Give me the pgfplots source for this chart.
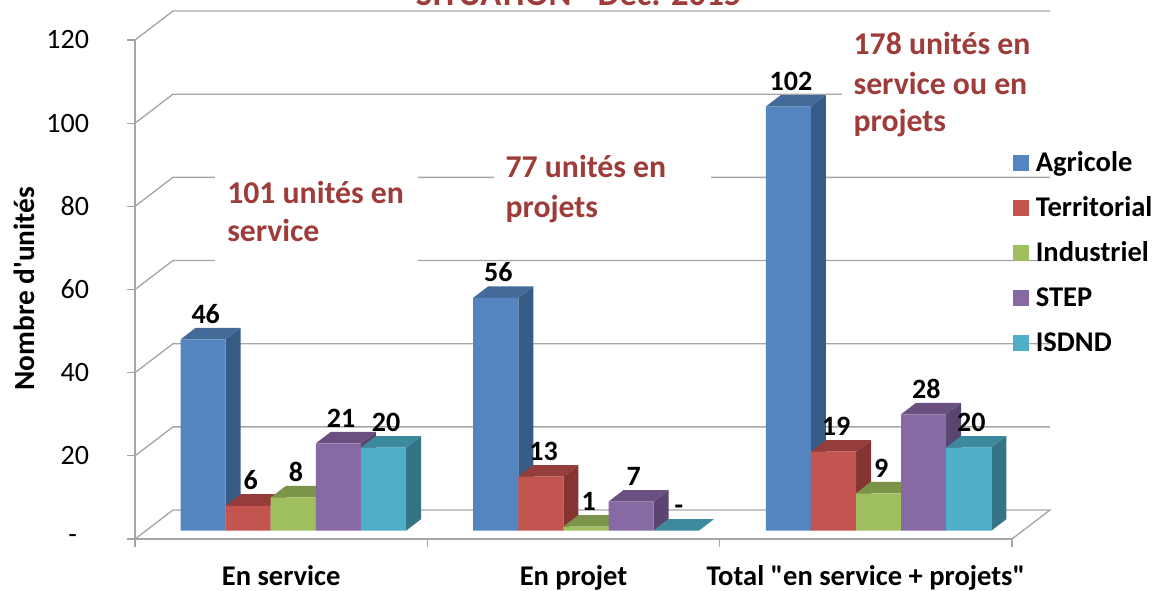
\documentclass[border=0pt]{standalone}
\usepackage{pgfplots}
\pgfplotsset{compat=1.18}
\usepackage{fontspec}
\setmainfont{Carlito}
\newfontfamily\carl{Carlito}
\definecolor{wallc}{HTML}{A6A6A6}
\definecolor{redtxt}{HTML}{9E3C3A}
\definecolor{bluef}{HTML}{5585C0}\definecolor{blues}{HTML}{385B85}\definecolor{bluet}{HTML}{446A9A}
\definecolor{redf}{HTML}{C3544F}\definecolor{reds}{HTML}{843532}\definecolor{redt}{HTML}{953D3B}
\definecolor{greenf}{HTML}{A0BF5E}\definecolor{greens}{HTML}{6F8A3F}\definecolor{greent}{HTML}{7C944A}
\definecolor{purplef}{HTML}{8769A4}\definecolor{purples}{HTML}{5A4570}\definecolor{purplet}{HTML}{6A5080}
\definecolor{tealf}{HTML}{4FAFC9}\definecolor{teals}{HTML}{347485}\definecolor{tealt}{HTML}{3D8A9F}
% one face of a bar: side and top, from the left edge and the value
\newcommand{\depth}[4]{%
  \pgfmathsetmacro{\xr}{#1+45.1}\pgfmathsetmacro{\xb}{#1+45.1+15}\pgfmathsetmacro{\xc}{#1+15}\pgfmathsetmacro{\yt}{#2+2.77}%
  \edef\temp{\noexpand\addplot[fill=#3,draw=none,forget plot] coordinates {(\xr,0)(\xb,2.77)(\xb,\yt)(\xr,#2)};
  \noexpand\addplot[fill=#4,draw=none,forget plot] coordinates {(#1,#2)(\xr,#2)(\xb,\yt)(\xc,\yt)};}\temp}
\begin{document}
\begin{tikzpicture}
\path[use as bounding box,clip] (0,0) rectangle (864.75pt,442.5pt);
% frame axis, walls and ticks
\begin{axis}[
  at={(101.25pt,38.25pt)},anchor=origin,
  scale only axis,width=657.75pt,height=374.25pt,
  xmin=0,xmax=3,ymin=0,ymax=120,clip=false,
  axis lines*=left,axis line style={wallc,line width=1pt},
  tick style={wallc,line width=0.8pt},major tick length=6pt,tick align=outside,
  tick pos=left,
  ytick={0,20,40,60,80,100,120},
  yticklabels={-\rule{9pt}{0pt},20,40,60,80,100,120},
  yticklabel style={font=\fontsize{21}{25}\selectfont,anchor=east,xshift=-25pt},
  xtick={0,1,2,3},x tick label as interval,
  xticklabels={En service,En projet,{\carl Total "en service + projets"}},
  xticklabel style={font=\bfseries\fontsize{21.4}{25}\selectfont,anchor=base,yshift=-28.5pt},
]
\addplot[wallc,line width=1pt] coordinates {(0,0)(0.13,6.97)(3.13,6.97)(3,0)};
\addplot[wallc,line width=1pt] coordinates {(0,20)(0.13,26.97)(3.13,26.97)};
\addplot[wallc,line width=1pt] coordinates {(0,40)(0.13,46.97)(3.13,46.97)};
\addplot[wallc,line width=1pt] coordinates {(0,60)(0.13,66.97)(3.13,66.97)};
\addplot[wallc,line width=1pt] coordinates {(0,80)(0.13,86.97)(3.13,86.97)};
\addplot[wallc,line width=1pt] coordinates {(0,100)(0.13,106.97)(3.13,106.97)};
\addplot[wallc,line width=1pt] coordinates {(0,120)(0.13,126.97)(3.13,126.97)};
\end{axis}
% text boxes that interrupt the wall lines
\fill[white] (161.25pt,240pt) rectangle (313.5pt,319pt);
\fill[white] (370.5pt,281pt) rectangle (533.25pt,330pt);
\fill[white] (631.5pt,330pt) rectangle (800pt,430pt);
\node[anchor=base west,inner sep=0pt,align=left,text=redtxt,font=\bfseries\fontsize{23.8}{30}\selectfont] at (170.25pt,290pt) {101 unités en};
\node[anchor=base west,inner sep=0pt,text=redtxt,font=\bfseries\fontsize{23.8}{30}\selectfont] at (170.25pt,261pt) {service};
\node[anchor=base west,inner sep=0pt,text=redtxt,font=\bfseries\fontsize{23.8}{30}\selectfont] at (379pt,309pt) {77 unités en};
\node[anchor=base west,inner sep=0pt,text=redtxt,font=\bfseries\fontsize{23.8}{30}\selectfont] at (379pt,279pt) {projets};
\node[anchor=base west,inner sep=0pt,text=redtxt,font=\bfseries\fontsize{23.8}{30}\selectfont] at (640pt,401.5pt) {178 unités en};
\node[anchor=base west,inner sep=0pt,text=redtxt,font=\bfseries\fontsize{23.8}{30}\selectfont] at (640pt,371.5pt) {service ou en};
\node[anchor=base west,inner sep=0pt,text=redtxt,font=\bfseries\fontsize{23.8}{30}\selectfont] at (640pt,343.5pt) {projets};
\node[anchor=base,inner sep=0pt,text=redtxt,font=\bfseries\fontsize{26}{30}\selectfont] at (434pt,438pt) {SITUATION - Déc. 2015};
\node[rotate=90,anchor=center,font=\carl\bfseries\fontsize{22}{26}\selectfont] at (18pt,226pt) {Nombre d'unités};
% bars
\begin{axis}[
  at={(0pt,0pt)},anchor=south west,
  scale only axis,width=864.75pt,height=442.5pt,
  xmin=0,xmax=1153,ymin=-14.26,ymax=127.63,
  clip=false,hide axis,
  swatch/.style={legend image code/.code={\path[draw=none,#1] (0pt,0.4pt) rectangle (11.7pt,12.1pt);}},
  legend style={at={(axis cs:1013,91.65)},anchor=north west,draw=none,fill=none,inner sep=0pt,
    nodes={inner sep=0pt,anchor=base west,text height=16pt,text depth=5pt,font=\bfseries\fontsize{21.4}{25}\selectfont},
    /tikz/every odd column/.append style={column sep=5.25pt},row sep=12.75pt},
  legend cell align=left,
  onebar/.style={ybar,bar width=33.83pt,bar shift=0pt,draw=none,forget plot,
    nodes near coords,point meta=explicit symbolic,
    every node near coord/.append style={anchor=base,inner sep=0pt,xshift=2pt,yshift=12.2pt,
      text=black,font=\bfseries\fontsize{21}{25}\selectfont}},
]
\addlegendimage{swatch={fill=bluef}}\addlegendentry{Agricole}
\addlegendimage{swatch={fill=redf}}\addlegendentry{Territorial}
\addlegendimage{swatch={fill=greenf}}\addlegendentry{Industriel}
\addlegendimage{swatch={fill=purplef}}\addlegendentry{STEP}
\addlegendimage{swatch={fill=tealf}}\addlegendentry{ISDND}
% Agricole
\depth{180.5}{46}{blues}{bluet}\depth{473.2}{56}{blues}{bluet}\depth{765.8}{102}{blues}{bluet}
\addplot[onebar,fill=bluef] coordinates {(203.05,46)[46] (495.75,56)[56] (788.35,102)[102]};
% Territorial
\depth{225.6}{6}{reds}{redt}\depth{518.3}{13}{reds}{redt}\depth{810.9}{19}{reds}{redt}
\addplot[onebar,fill=redf] coordinates {(248.15,6)[6] (540.85,13)[13] (833.45,19)[19]};
% Industriel
\depth{270.7}{8}{greens}{greent}\depth{563.4}{1}{greens}{greent}\depth{856}{9}{greens}{greent}
\addplot[onebar,fill=greenf] coordinates {(293.25,8)[8] (585.95,1)[1] (878.55,9)[9]};
% STEP
\depth{315.8}{21}{purples}{purplet}\depth{608.5}{7}{purples}{purplet}\depth{901.1}{28}{purples}{purplet}
\addplot[onebar,fill=purplef] coordinates {(338.35,21)[21] (631.05,7)[7] (923.65,28)[28]};
% ISDND
\depth{360.9}{20}{teals}{tealt}\depth{653.6}{0}{teals}{tealt}\depth{946.2}{20}{teals}{tealt}
\addplot[onebar,fill=tealf] coordinates {(383.45,20)[20] (676.15,0)[-] (968.75,20)[20]};
\end{axis}
\end{tikzpicture}
\end{document}
